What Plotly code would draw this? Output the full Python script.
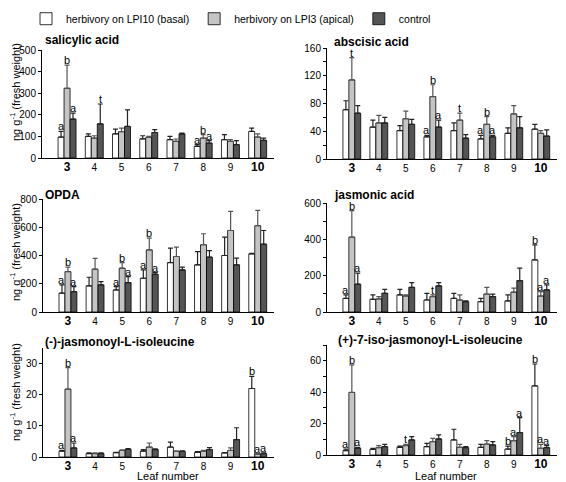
import plotly.graph_objects as go
from plotly.subplots import make_subplots

leaves = [3, 4, 5, 6, 7, 8, 9, 10]
tick_labels = ["<span style='font-size:12px'><b>3</b></span>", "4", "5", "6", "7", "8", "9",
               "<span style='font-size:12px'><b>10</b></span>"]
series_names = ["herbivory on LPI10 (basal)", "herbivory on LPI3 (apical)", "control"]
panel_titles = ["salicylic acid", "abscisic acid", "OPDA", "jasmonic acid",
                "(-)-jasmonoyl-L-isoleucine", "(+)-7-iso-jasmonoyl-L-isoleucine"]

# salicylic acid
sa_basal = [97, 100, 112, 89, 85, 54, 85, 123]
sa_apical = [323, 92, 122, 95, 77, 92, 77, 97]
sa_control = [180, 158, 146, 118, 112, 69, 62, 82]
sa_basal_top = [123, 112, 134, 103, 100, 62, 108, 138]
sa_apical_top = [430, 103, 138, 100, 88, 108, 85, 112]
sa_control_top = [208, 250, 223, 131, 115, 80, 80, 92]
sa_letters = [(3, 0, "a"), (3, 1, "b"), (3, 2, "a"), (4, 2, "t"), (8, 0, "a"), (8, 1, "b"), (8, 2, "a")]

# abscisic acid
aba_basal = [71, 46, 41, 32, 41, 29, 37, 43]
aba_apical = [114, 52, 58, 90, 56, 50, 65, 37]
aba_control = [66, 52, 50, 46, 30, 32, 45, 33]
aba_basal_top = [84, 56, 48, 34, 52, 34, 45, 50]
aba_apical_top = [146, 63, 69, 107, 66, 61, 77, 41]
aba_control_top = [77, 60, 57, 56, 35, 34, 61, 42]
aba_letters = [(3, 1, "t"), (6, 0, "a"), (6, 1, "b"), (6, 2, "a"), (7, 1, "t"), (8, 0, "a"), (8, 1, "b"), (8, 2, "a")]

# OPDA
opda_basal = [133, 185, 156, 239, 350, 334, 400, 412]
opda_apical = [286, 303, 310, 440, 393, 476, 577, 611]
opda_control = [144, 192, 208, 267, 298, 388, 334, 480]
opda_basal_top = [192, 246, 180, 298, 452, 428, 530, 416]
opda_apical_top = [317, 379, 350, 523, 459, 554, 712, 720]
opda_control_top = [180, 215, 251, 279, 317, 435, 381, 577]
opda_letters = [(3, 0, "a"), (3, 1, "b"), (3, 2, "a"), (5, 0, "a"), (5, 1, "b"), (5, 2, "a"), (6, 0, "a"), (6, 1, "b"), (6, 2, "a")]

# jasmonic acid
ja_basal = [75, 70, 94, 66, 75, 57, 61, 287]
ja_apical = [412, 72, 88, 85, 66, 99, 109, 88]
ja_control = [153, 103, 136, 144, 57, 85, 173, 122]
ja_basal_top = [94, 94, 125, 103, 103, 75, 94, 370]
ja_apical_top = [558, 85, 94, 94, 94, 136, 131, 112]
ja_control_top = [214, 125, 162, 162, 61, 98, 241, 149]
ja_letters = [(3, 0, "a"), (3, 1, "b"), (3, 2, "a"), (6, 1, "t"), (10, 0, "b"), (10, 1, "a"), (10, 2, "a")]

# (-)-jasmonoyl-L-isoleucine
jaile_basal = [1.9, 1.1, 1.4, 1.9, 3.2, 1.5, 1.3, 22.0]
jaile_apical = [21.8, 1.1, 2.1, 3.2, 1.8, 1.9, 2.1, 0.9]
jaile_control = [2.9, 1.1, 2.5, 2.4, 1.8, 2.4, 5.6, 1.1]
jaile_basal_top = [2.1, 1.3, 1.5, 2.4, 4.8, 1.7, 1.4, 25.9]
jaile_apical_top = [28.7, 1.3, 2.3, 4.5, 2.0, 2.1, 2.9, 1.1]
jaile_control_top = [4.5, 1.3, 2.7, 2.6, 2.0, 3.0, 9.4, 1.3]
jaile_letters = [(3, 0, "a"), (3, 1, "b"), (3, 2, "a"), (10, 0, "b"), (10, 1, "a"), (10, 2, "a")]

# (+)-7-iso-jasmonoyl-L-isoleucine
iso_basal = [2.8, 3.6, 4.9, 5.3, 9.6, 4.9, 3.8, 44.0]
iso_apical = [39.8, 4.7, 6.0, 8.5, 4.9, 7.0, 9.1, 4.3]
iso_control = [4.3, 5.3, 9.6, 10.2, 4.7, 6.4, 14.3, 4.7]
iso_basal_top = [3.8, 4.3, 5.7, 7.4, 16.4, 6.8, 5.7, 57.9]
iso_apical_top = [57.4, 6.0, 6.8, 10.6, 6.8, 9.1, 11.7, 6.8]
iso_control_top = [4.8, 6.8, 11.7, 12.8, 5.3, 8.5, 23.8, 6.0]
iso_letters = [(3, 0, "a"), (3, 1, "b"), (3, 2, "a"), (5, 1, "t"), (9, 0, "b"), (9, 1, "a"), (9, 2, "a"), (10, 0, "b"), (10, 1, "a"), (10, 2, "a")]

panels = [
    ([sa_basal, sa_apical, sa_control], [sa_basal_top, sa_apical_top, sa_control_top], sa_letters),
    ([aba_basal, aba_apical, aba_control], [aba_basal_top, aba_apical_top, aba_control_top], aba_letters),
    ([opda_basal, opda_apical, opda_control], [opda_basal_top, opda_apical_top, opda_control_top], opda_letters),
    ([ja_basal, ja_apical, ja_control], [ja_basal_top, ja_apical_top, ja_control_top], ja_letters),
    ([jaile_basal, jaile_apical, jaile_control], [jaile_basal_top, jaile_apical_top, jaile_control_top], jaile_letters),
    ([iso_basal, iso_apical, iso_control], [iso_basal_top, iso_apical_top, iso_control_top], iso_letters),
]

# the page body has an 8px default margin, so the figure is sized/offset for it
PAGE_OFF = 8
W, H = 566 - PAGE_OFF, 482 - PAGE_OFF


def fx(p):
    return (p - PAGE_OFF) / W


def fy(p):
    return 1 - (p - PAGE_OFF) / H


FONT = "Liberation Sans, Arial, sans-serif"
colors = ["#ffffff", "#c4c4c4", "#555555"]
err_colors = ["#222222", "#555555", "#222222"]
BARGAP = 0.34

# axis ranges / ticks
y_ranges = [[0, 500], [0, 160], [0, 800], [0, 600], [0, 35], [0, 70]]
y_dticks = [100, 40, 200, 200, 10, 20]
y_minor = [None, 20, None, 100, None, 10]
# pixel geometry in the screenshot: (x_left, x_right, y_top, y_bottom)
px = [(42, 274, 50, 158), (327, 557, 48, 159),
      (43, 274, 199, 312), (327, 557, 203, 312),
      (43, 274, 348, 457), (327, 557, 345, 455)]
title_pos = [(43, 40), (332, 42), (43, 195), (332, 195), (43, 342), (336, 340)]

fig = make_subplots(rows=3, cols=2)

for p, (vals, tops, letters) in enumerate(panels):
    r, c = p // 2 + 1, p % 2 + 1
    for i in range(3):
        fig.add_trace(go.Bar(
            x=leaves, y=vals[i], name=series_names[i],
            marker=dict(color=colors[i], line=dict(color="#000000", width=0.8)),
            error_y=dict(type="data", symmetric=False,
                         array=[t - v for t, v in zip(tops[i], vals[i])],
                         arrayminus=[0] * len(leaves),
                         color=err_colors[i], thickness=1.2, width=2.5),
            showlegend=(p == 0), legendgroup=series_names[i],
        ), row=r, col=c)
    w = (1 - BARGAP) / 3
    ax = "" if p == 0 else str(p + 1)
    for (leaf, si, txt) in letters:
        idx = leaves.index(leaf)
        fig.add_annotation(x=leaf + (si - 1) * w, y=tops[si][idx], xref="x" + ax, yref="y" + ax,
                           text=txt, showarrow=False, yanchor="bottom", yshift=-3,
                           font=dict(size=11, color="black", family=FONT))

    xl, xr, yt, yb = px[p]
    fig.layout["xaxis" + ax].update(
        domain=[fx(xl), fx(xr)], range=[2.08, 10.6], tickmode="array",
        tickvals=leaves, ticktext=tick_labels, showline=True, linecolor="#000",
        linewidth=1, ticks="", showgrid=False, zeroline=False,
        tickfont=dict(size=10, color="#000", family=FONT), fixedrange=True)
    yax = dict(domain=[fy(yb), fy(yt)], range=y_ranges[p], dtick=y_dticks[p],
               showline=True, linecolor="#000", linewidth=1, ticks="outside",
               ticklen=3, tickcolor="#000", showgrid=False, zeroline=False,
               tickfont=dict(size=10, color="#000", family=FONT))
    if y_minor[p]:
        yax["minor"] = dict(dtick=y_minor[p], ticks="outside", ticklen=3, tickcolor="#000")
    fig.layout["yaxis" + ax].update(**yax)

    tx, ty = title_pos[p]
    fig.add_annotation(x=fx(tx), y=fy(ty), xref="paper", yref="paper", text="<b>" + panel_titles[p] + "</b>",
                       showarrow=False, xanchor="left", yanchor="middle",
                       font=dict(size=12, color="#000", family=FONT))

# y-axis titles (left column)
for cy in [92, 252, 392]:
    fig.add_annotation(x=fx(15), y=fy(cy), xref="paper", yref="paper",
                       text="ng g<sup>-1</sup> (fresh weight)", textangle=-90, showarrow=False,
                       xanchor="center", yanchor="middle",
                       font=dict(size=11, color="#000", family=FONT))
# x-axis titles
for cx in [168, 446]:
    fig.add_annotation(x=fx(cx), y=fy(476), xref="paper", yref="paper", text="Leaf number",
                       showarrow=False, xanchor="center", yanchor="middle",
                       font=dict(size=11, color="#000", family=FONT))

fig.update_layout(
    width=W, height=H, margin=dict(l=0, r=0, t=0, b=0, autoexpand=False),
    paper_bgcolor="#ffffff", plot_bgcolor="#ffffff",
    barmode="group", bargap=BARGAP, bargroupgap=0,
    font=dict(family=FONT, color="#000"),
    legend=dict(orientation="h", x=fx(26), y=1.008, xanchor="left", yanchor="top",
                font=dict(size=10.5, color="#000", family=FONT),
                bgcolor="rgba(0,0,0,0)"),
)

fig.write_html("out.html")
